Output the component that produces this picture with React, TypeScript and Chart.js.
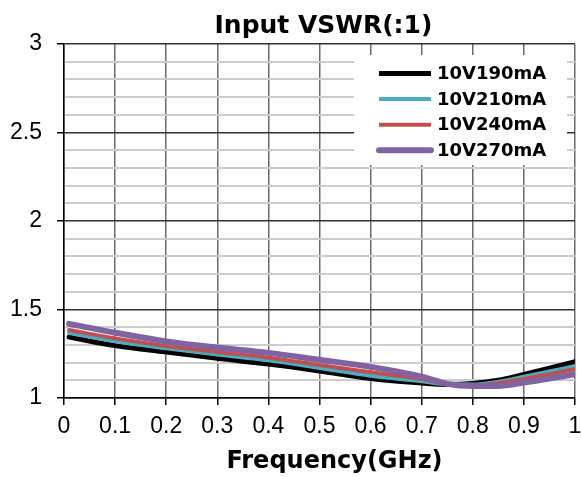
import React, { useEffect, useRef } from 'react';
import { Chart, registerables } from 'chart.js';

Chart.register(...registerables);

const TITLE = 'Input VSWR(:1)';
const X_TITLE = 'Frequency(GHz)';

const FREQ = [0.01, 0.1, 0.2, 0.3, 0.4, 0.5, 0.6, 0.7, 0.75, 0.8, 0.85, 0.9, 0.95, 1.0];
const S_190 = [1.345, 1.296, 1.26, 1.224, 1.192, 1.153, 1.11, 1.085, 1.076, 1.082, 1.1, 1.133, 1.168, 1.205];
const S_210 = [1.367, 1.32, 1.281, 1.245, 1.213, 1.17, 1.126, 1.095, 1.077, 1.076, 1.092, 1.12, 1.15, 1.18];
const S_240 = [1.384, 1.337, 1.294, 1.26, 1.228, 1.186, 1.145, 1.107, 1.078, 1.073, 1.084, 1.108, 1.135, 1.163];
const S_270 = [1.419, 1.369, 1.32, 1.285, 1.255, 1.216, 1.176, 1.121, 1.08, 1.068, 1.068, 1.087, 1.11, 1.135];

const SERIES_LABELS = ['10V190mA', '10V210mA', '10V240mA', '10V270mA'];
const SERIES_VALUES = [S_190, S_210, S_240, S_270];

const COLORS = ['#000000', '#4BACC6', '#C0504D', '#8064A2'];
const WIDTHS = [5, 4, 4, 6];
const CAPS: CanvasLineCap[] = ['butt', 'butt', 'butt', 'round'];
const DRAW_ORDER = [3, 2, 1, 0];

const X_MIN = 0;
const X_MAX = 1;
const X_STEP = 0.1;
const Y_MIN = 1;
const Y_MAX = 3;
const Y_STEP = 0.1;
const Y_MAJOR_STEP = 0.5;

const TICK_FONT = { family: '"Liberation Sans", Arial, sans-serif', size: 23 };
const BOLD_FAMILY = '"DejaVu Sans", Verdana, sans-serif';

const isMajor = (v: number) => {
  const r = v / Y_MAJOR_STEP;
  return Math.abs(r - Math.round(r)) < 1e-6;
};

const decorPlugin = {
  id: 'decor',
  afterDraw(chart: any) {
    const { ctx, chartArea } = chart;
    const ca = chartArea;
    ctx.save();
    // Main title
    ctx.fillStyle = '#000';
    ctx.font = `bold 25px ${BOLD_FAMILY}`;
    ctx.textAlign = 'center';
    ctx.textBaseline = 'alphabetic';
    ctx.fillText(TITLE, (ca.left + ca.right) / 2 + 4, ca.top - 11);
    // X title
    ctx.font = `bold 24px ${BOLD_FAMILY}`;
    ctx.fillText(X_TITLE, (ca.left + ca.right) / 2 + 15, ca.bottom + 70);

    // Legend
    const lx = ca.left + 290;
    const ly = ca.top + 11;
    ctx.fillStyle = '#ffffff';
    ctx.fillRect(lx, ly, 213, 110);
    const ds = chart.data.datasets;
    ds.forEach((d: any, i: number) => {
      const y = ly + 18.5 + i * 25.6;
      ctx.beginPath();
      ctx.strokeStyle = d.borderColor;
      ctx.lineWidth = d.borderWidth;
      ctx.lineCap = CAPS[i];
      ctx.moveTo(lx + 25, y);
      ctx.lineTo(lx + 77, y);
      ctx.stroke();
      ctx.fillStyle = '#000';
      ctx.font = `bold 18px ${BOLD_FAMILY}`;
      ctx.textAlign = 'left';
      ctx.textBaseline = 'middle';
      ctx.fillText(d.label, lx + 83, y + 1);
    });
    ctx.restore();
  },
};

export default function App() {
  const canvasRef = useRef<HTMLCanvasElement | null>(null);

  useEffect(() => {
    const canvas = canvasRef.current;
    if (!canvas) return;
    const chart = new Chart(canvas, {
      type: 'line',
      data: {
        datasets: SERIES_LABELS.map((label, i) => ({
          label,
          data: FREQ.map((f, j) => ({ x: f, y: SERIES_VALUES[i][j] })),
          borderColor: COLORS[i],
          backgroundColor: COLORS[i],
          borderWidth: WIDTHS[i],
          pointRadius: 0,
          pointHoverRadius: 0,
          cubicInterpolationMode: 'monotone' as const,
          borderCapStyle: 'round' as const,
          borderJoinStyle: 'round' as const,
          fill: false,
          order: DRAW_ORDER[i],
        })),
      },
      options: {
        animation: false,
        responsive: false,
        devicePixelRatio: 1,
        events: [],
        layout: { padding: { top: 44, right: 6, left: 0, bottom: 0 } },
        plugins: {
          legend: { display: false },
          title: { display: false },
          tooltip: { enabled: false },
        },
        scales: {
          x: {
            type: 'linear',
            min: X_MIN,
            max: X_MAX,
            afterFit: (s: any) => {
              s.height = 79;
              s.paddingLeft = 0;
              s.paddingRight = 0;
            },
            ticks: {
              stepSize: X_STEP,
              autoSkip: false,
              maxRotation: 0,
              padding: 8,
              color: '#000',
              font: TICK_FONT,
              callback: (v: any) => String(Number(Number(v).toFixed(1))),
            },
            grid: {
              color: '#6a6a6a',
              lineWidth: 1.5,
              tickLength: 7,
              tickColor: '#000',
              tickWidth: 1.5,
            },
            border: { display: true, color: '#000', width: 1.5 },
          },
          y: {
            type: 'linear',
            min: Y_MIN,
            max: Y_MAX,
            afterFit: (s: any) => {
              s.width = 64;
            },
            ticks: {
              stepSize: Y_STEP,
              autoSkip: false,
              padding: 15,
              color: '#000',
              font: TICK_FONT,
              callback: (v: any) => (isMajor(Number(v)) ? String(Number(Number(v).toFixed(1))) : ''),
            },
            grid: {
              color: (c: any) => (isMajor(c.tick.value) ? '#303030' : '#cccccc'),
              lineWidth: (c: any) => (isMajor(c.tick.value) ? 1.5 : 2),
              tickLength: 7,
              tickColor: (c: any) => (isMajor(c.tick.value) ? '#000' : 'rgba(0,0,0,0)'),
              tickWidth: 1.5,
            },
            border: { display: true, color: '#000', width: 1.5 },
          },
        },
      },
      plugins: [decorPlugin],
    });
    return () => chart.destroy();
  }, []);

  return (
    <div style={{ position: 'absolute', left: 0, top: 0, width: 581, height: 477, background: '#fff' }}>
      <canvas ref={canvasRef} width={581} height={477} style={{ display: 'block' }} />
    </div>
  );
}
